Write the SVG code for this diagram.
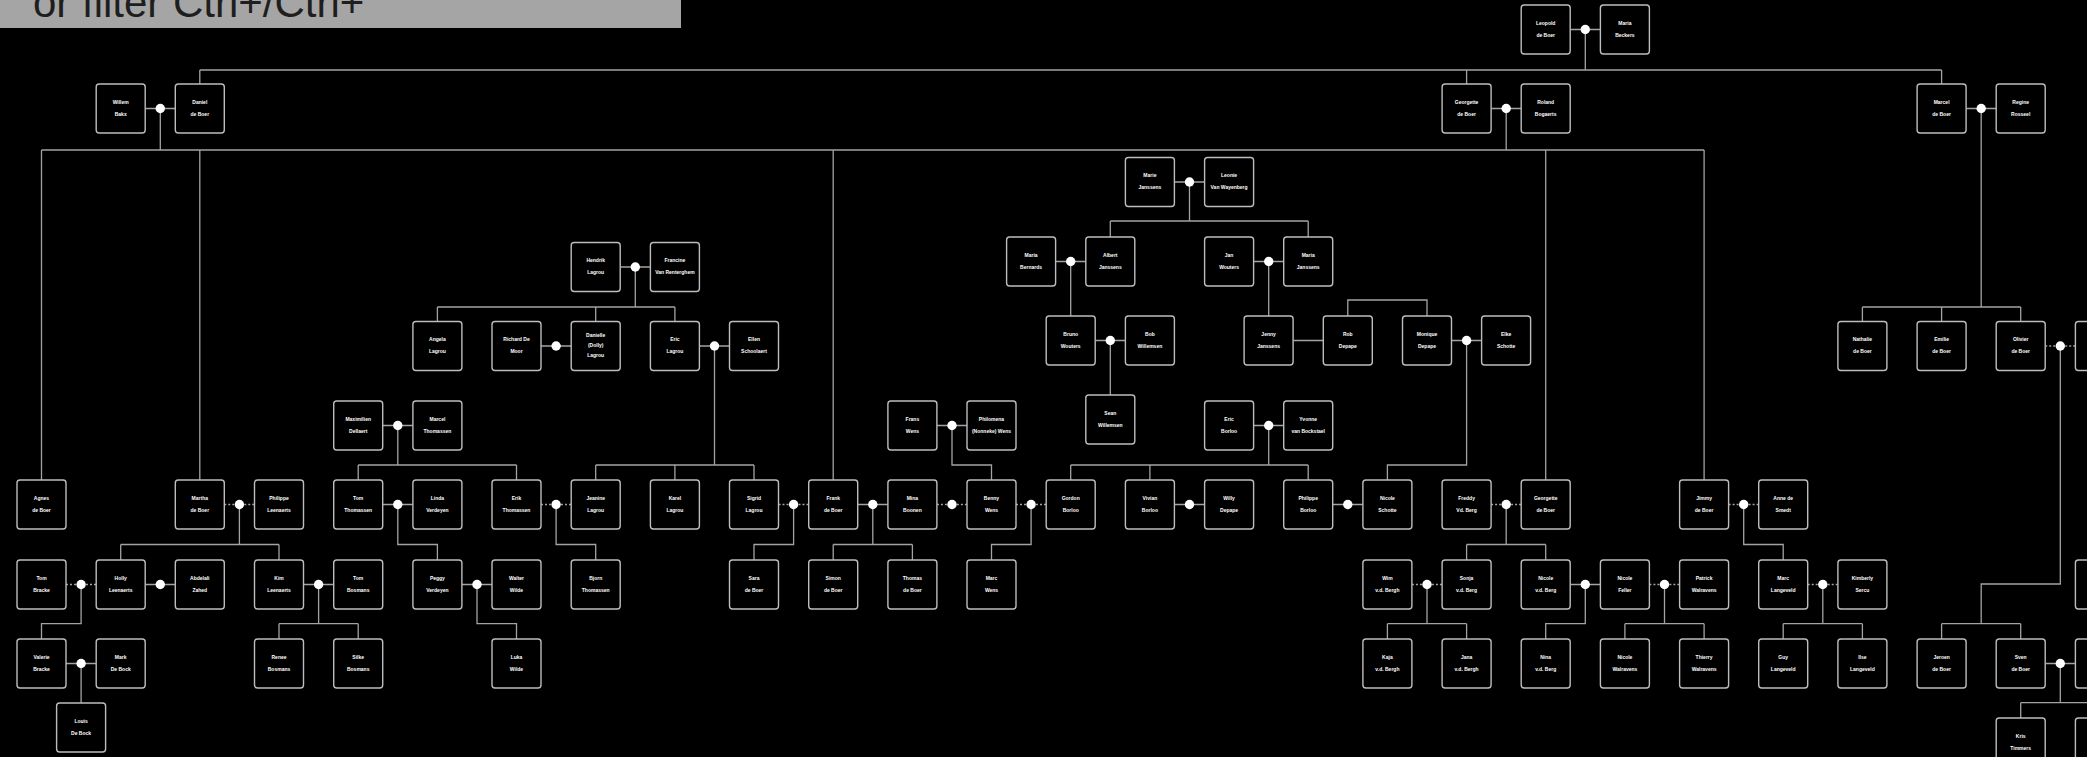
<svg xmlns="http://www.w3.org/2000/svg" width="2087" height="757" viewBox="0 0 2087 757">
<style>
.b{fill:#000;stroke:#bdbdbd;stroke-width:1.4}
.t{font-family:"Liberation Sans",Arial,sans-serif;font-weight:bold;font-size:5px;fill:#fff;text-anchor:middle}
.c{fill:none;stroke:#a3a3a3;stroke-width:1.3}
.d{fill:none;stroke:#a3a3a3;stroke-width:1.3;stroke-dasharray:2 2}
.m{fill:#fff}
</style>
<rect x="0" y="0" width="2087" height="757" fill="#000"/>
<g id="searchbar">
<rect x="0" y="0" width="681" height="28" fill="#a5a5a5"/>
<text x="33" y="17" font-family="Liberation Sans, Arial, sans-serif" font-size="42" fill="#1e1e1e">or filter Ctrl+/Ctrl+</text>
</g>
<g id="connectors">
<path class="c" d="M1585.3 29.5V70M199.8 70H1941.6M199.8 70V84M1466.6 70V84M1941.6 70V84
M160.3 108.5V150M1506.2 108.5V150M41.5 150H1704.1M41.5 150V480M199.8 150V480M833.2 150V480M1545.7 150V480M1704.1 150V480
M1189.5 182V221M1110.3 221H1308.2M1110.3 221V237M1308.2 221V237
M635.3 267V307M437.4 307H674.9M437.4 307V321.5M595.7 307V321.5M674.9 307V321.5
M1981.2 108.5V307M1862.4 307H2020.7M1862.4 307V321.5M1941.6 307V321.5M2020.7 307V321.5
M1070.7 261.5V316M1268.7 261.5V316
M1347.8 316V300H1427V316
M1110.3 340.5V395
M1466.6 340.5V465H1387.4V480
M714.5 346V465M595.7 465H754M595.7 465V480M674.9 465V480M754 465V480
M2060.3 346V584H1981.2V623.7M1941.6 623.7H2020.7M1941.6 623.7V639M2020.7 623.7V639
M397.8 425.5V465M358.2 465H516.5M358.2 465V480M516.5 465V480
M952 425.5V465H991.5V480
M1268.7 425.5V465M1070.7 465H1308.2M1070.7 465V480M1149.9 465V480M1308.2 465V480
M239.4 504.5V544.5M120.7 544.5H279M120.7 544.5V560M279 544.5V560
M397.8 504.5V544.5H437.4V560
M556.1 504.5V544.5H595.7V560
M793.6 504.5V544.5H754V560
M872.8 504.5V544.5M833.2 544.5H912.4M833.2 544.5V560M912.4 544.5V560
M1031.1 504.5V544.5H991.5V560
M1506.2 504.5V544.5M1466.6 544.5H1545.7M1466.6 544.5V560M1545.7 544.5V560
M1743.7 504.5V544.5H1783.2V560
M81.1 584.5V623.7H41.5V639
M318.6 584.5V623.7M279 623.7H358.2M279 623.7V639M358.2 623.7V639
M477 584.5V623.7H516.5V639
M1427 584.5V623.7M1387.4 623.7H1466.6M1387.4 623.7V639M1466.6 623.7V639
M1585.3 584.5V623.7H1545.7V639
M1664.5 584.5V623.7M1624.9 623.7H1704.1M1624.9 623.7V639M1704.1 623.7V639
M1822.8 584.5V623.7M1783.2 623.7H1862.4M1783.2 623.7V639M1862.4 623.7V639
M81.1 663.5V703
M2060.3 663.5V702.7M2020.7 702.7H2099.9M2020.7 702.7V718M2099.9 702.7V718"/>
<path class="c" d="M1570.2 29.5H1600.4M145.2 108.5H175.3M1491.1 108.5H1521.2M1966.1 108.5H1996.2
M1174.4 182H1204.6M1055.6 261.5H1085.8M1253.6 261.5H1283.7M620.2 267H650.4
M1095.2 340.5H1125.4M1293.1 340.5H1323.3M1451.5 340.5H1481.6
M541 346H571.2M699.4 346H729.5
M382.7 425.5H412.9M936.9 425.5H967M1253.6 425.5H1283.7
M382.7 504.5H412.9M857.7 504.5H887.9M1174.4 504.5H1204.6M1332.7 504.5H1362.9
M145.2 584.5H175.3M303.5 584.5H333.7M461.9 584.5H492M1570.2 584.5H1600.4
M66 663.5H96.2M2045.2 663.5H2075.4"/>
<path class="d" d="M2045.2 346H2075.4M224.3 504.5H254.5M541 504.5H571.2M778.5 504.5H808.7M936.9 504.5H967M1016 504.5H1046.2M1491.1 504.5H1521.2M1728.6 504.5H1758.7
M66 584.5H96.2M1411.9 584.5H1442.1M1649.4 584.5H1679.6M1807.7 584.5H1837.9"/>
<g class="m">
<circle cx="1585.3" cy="29.5" r="4.7"/>
<circle cx="160.3" cy="108.5" r="4.7"/><circle cx="1506.2" cy="108.5" r="4.7"/><circle cx="1981.2" cy="108.5" r="4.7"/>
<circle cx="1189.5" cy="182" r="4.7"/>
<circle cx="1070.7" cy="261.5" r="4.7"/><circle cx="1268.7" cy="261.5" r="4.7"/><circle cx="635.3" cy="267" r="4.7"/>
<circle cx="1110.3" cy="340.5" r="4.7"/><circle cx="1466.6" cy="340.5" r="4.7"/>
<circle cx="556.1" cy="346" r="4.7"/><circle cx="714.5" cy="346" r="4.7"/><circle cx="2060.3" cy="346" r="4.7"/>
<circle cx="397.8" cy="425.5" r="4.7"/><circle cx="952" cy="425.5" r="4.7"/><circle cx="1268.7" cy="425.5" r="4.7"/>
<circle cx="239.4" cy="504.5" r="4.7"/><circle cx="397.8" cy="504.5" r="4.7"/><circle cx="556.1" cy="504.5" r="4.7"/><circle cx="793.6" cy="504.5" r="4.7"/><circle cx="872.8" cy="504.5" r="4.7"/><circle cx="952" cy="504.5" r="4.7"/><circle cx="1031.1" cy="504.5" r="4.7"/><circle cx="1189.5" cy="504.5" r="4.7"/><circle cx="1347.8" cy="504.5" r="4.7"/><circle cx="1506.2" cy="504.5" r="4.7"/><circle cx="1743.7" cy="504.5" r="4.7"/>
<circle cx="81.1" cy="584.5" r="4.7"/><circle cx="160.3" cy="584.5" r="4.7"/><circle cx="318.6" cy="584.5" r="4.7"/><circle cx="477" cy="584.5" r="4.7"/><circle cx="1427" cy="584.5" r="4.7"/><circle cx="1585.3" cy="584.5" r="4.7"/><circle cx="1664.5" cy="584.5" r="4.7"/><circle cx="1822.8" cy="584.5" r="4.7"/>
<circle cx="81.1" cy="663.5" r="4.7"/><circle cx="2060.3" cy="663.5" r="4.7"/>
</g>
</g>
<g id="n01"><rect class="b" x="1521.2" y="5" width="49" height="49" rx="3"/><text class="t" x="1545.7" y="24.5">Leopold</text><text class="t" x="1545.7" y="36.5">de Boer</text></g>
<g id="n02"><rect class="b" x="1600.4" y="5" width="49" height="49" rx="3"/><text class="t" x="1624.9" y="24.5">Maria</text><text class="t" x="1624.9" y="36.5">Beckers</text></g>
<g id="n03"><rect class="b" x="96.2" y="84" width="49" height="49" rx="3"/><text class="t" x="120.7" y="103.5">Willem</text><text class="t" x="120.7" y="115.5">Bakx</text></g>
<g id="n04"><rect class="b" x="175.3" y="84" width="49" height="49" rx="3"/><text class="t" x="199.8" y="103.5">Daniel</text><text class="t" x="199.8" y="115.5">de Boer</text></g>
<g id="n05"><rect class="b" x="1442.1" y="84" width="49" height="49" rx="3"/><text class="t" x="1466.6" y="103.5">Georgette</text><text class="t" x="1466.6" y="115.5">de Boer</text></g>
<g id="n06"><rect class="b" x="1521.2" y="84" width="49" height="49" rx="3"/><text class="t" x="1545.7" y="103.5">Roland</text><text class="t" x="1545.7" y="115.5">Bogaerts</text></g>
<g id="n07"><rect class="b" x="1917.1" y="84" width="49" height="49" rx="3"/><text class="t" x="1941.6" y="103.5">Marcel</text><text class="t" x="1941.6" y="115.5">de Boer</text></g>
<g id="n08"><rect class="b" x="1996.2" y="84" width="49" height="49" rx="3"/><text class="t" x="2020.7" y="103.5">Regine</text><text class="t" x="2020.7" y="115.5">Rosseel</text></g>
<g id="n09"><rect class="b" x="1125.4" y="157.5" width="49" height="49" rx="3"/><text class="t" x="1149.9" y="177">Marie</text><text class="t" x="1149.9" y="189">Janssens</text></g>
<g id="n10"><rect class="b" x="1204.6" y="157.5" width="49" height="49" rx="3"/><text class="t" x="1229.1" y="177">Leonie</text><text class="t" x="1229.1" y="189">Van Wayenberg</text></g>
<g id="n11"><rect class="b" x="1006.6" y="237" width="49" height="49" rx="3"/><text class="t" x="1031.1" y="256.5">Maria</text><text class="t" x="1031.1" y="268.5">Bernards</text></g>
<g id="n12"><rect class="b" x="1085.8" y="237" width="49" height="49" rx="3"/><text class="t" x="1110.3" y="256.5">Albert</text><text class="t" x="1110.3" y="268.5">Janssens</text></g>
<g id="n13"><rect class="b" x="1204.6" y="237" width="49" height="49" rx="3"/><text class="t" x="1229.1" y="256.5">Jan</text><text class="t" x="1229.1" y="268.5">Wouters</text></g>
<g id="n14"><rect class="b" x="1283.7" y="237" width="49" height="49" rx="3"/><text class="t" x="1308.2" y="256.5">Maria</text><text class="t" x="1308.2" y="268.5">Janssens</text></g>
<g id="n15"><rect class="b" x="571.2" y="242.5" width="49" height="49" rx="3"/><text class="t" x="595.7" y="262">Hendrik</text><text class="t" x="595.7" y="274">Lagrou</text></g>
<g id="n16"><rect class="b" x="650.4" y="242.5" width="49" height="49" rx="3"/><text class="t" x="674.9" y="262">Francine</text><text class="t" x="674.9" y="274">Van Renterghem</text></g>
<g id="n17"><rect class="b" x="1046.2" y="316" width="49" height="49" rx="3"/><text class="t" x="1070.7" y="335.5">Bruno</text><text class="t" x="1070.7" y="347.5">Wouters</text></g>
<g id="n18"><rect class="b" x="1125.4" y="316" width="49" height="49" rx="3"/><text class="t" x="1149.9" y="335.5">Bob</text><text class="t" x="1149.9" y="347.5">Willemsen</text></g>
<g id="n19"><rect class="b" x="1244.1" y="316" width="49" height="49" rx="3"/><text class="t" x="1268.6" y="335.5">Jenny</text><text class="t" x="1268.6" y="347.5">Janssens</text></g>
<g id="n20"><rect class="b" x="1323.3" y="316" width="49" height="49" rx="3"/><text class="t" x="1347.8" y="335.5">Rob</text><text class="t" x="1347.8" y="347.5">Depape</text></g>
<g id="n21"><rect class="b" x="1402.5" y="316" width="49" height="49" rx="3"/><text class="t" x="1427" y="335.5">Monique</text><text class="t" x="1427" y="347.5">Depape</text></g>
<g id="n22"><rect class="b" x="1481.6" y="316" width="49" height="49" rx="3"/><text class="t" x="1506.1" y="335.5">Elke</text><text class="t" x="1506.1" y="347.5">Schotte</text></g>
<g id="n23"><rect class="b" x="412.9" y="321.5" width="49" height="49" rx="3"/><text class="t" x="437.4" y="341">Angela</text><text class="t" x="437.4" y="353">Lagrou</text></g>
<g id="n24"><rect class="b" x="492" y="321.5" width="49" height="49" rx="3"/><text class="t" x="516.5" y="341">Richard De</text><text class="t" x="516.5" y="353">Moor</text></g>
<g id="n25"><rect class="b" x="571.2" y="321.5" width="49" height="49" rx="3"/><text class="t" x="595.7" y="337">Danielle</text><text class="t" x="595.7" y="347">(Dolly)</text><text class="t" x="595.7" y="357">Lagrou</text></g>
<g id="n26"><rect class="b" x="650.4" y="321.5" width="49" height="49" rx="3"/><text class="t" x="674.9" y="341">Eric</text><text class="t" x="674.9" y="353">Lagrou</text></g>
<g id="n27"><rect class="b" x="729.5" y="321.5" width="49" height="49" rx="3"/><text class="t" x="754" y="341">Ellen</text><text class="t" x="754" y="353">Schoolaert</text></g>
<g id="n28"><rect class="b" x="1837.9" y="321.5" width="49" height="49" rx="3"/><text class="t" x="1862.4" y="341">Nathalie</text><text class="t" x="1862.4" y="353">de Boer</text></g>
<g id="n29"><rect class="b" x="1917.1" y="321.5" width="49" height="49" rx="3"/><text class="t" x="1941.6" y="341">Emilie</text><text class="t" x="1941.6" y="353">de Boer</text></g>
<g id="n30"><rect class="b" x="1996.2" y="321.5" width="49" height="49" rx="3"/><text class="t" x="2020.7" y="341">Olivier</text><text class="t" x="2020.7" y="353">de Boer</text></g>
<g id="n31"><rect class="b" x="2075.4" y="321.5" width="49" height="49" rx="3"/></g>
<g id="n32"><rect class="b" x="1085.8" y="395" width="49" height="49" rx="3"/><text class="t" x="1110.3" y="414.5">Sean</text><text class="t" x="1110.3" y="426.5">Willemsen</text></g>
<g id="n33"><rect class="b" x="333.7" y="401" width="49" height="49" rx="3"/><text class="t" x="358.2" y="420.5">Maximilien</text><text class="t" x="358.2" y="432.5">Dellaert</text></g>
<g id="n34"><rect class="b" x="412.9" y="401" width="49" height="49" rx="3"/><text class="t" x="437.4" y="420.5">Marcel</text><text class="t" x="437.4" y="432.5">Thomassen</text></g>
<g id="n35"><rect class="b" x="887.9" y="401" width="49" height="49" rx="3"/><text class="t" x="912.4" y="420.5">Frans</text><text class="t" x="912.4" y="432.5">Wens</text></g>
<g id="n36"><rect class="b" x="967" y="401" width="49" height="49" rx="3"/><text class="t" x="991.5" y="420.5">Philomena</text><text class="t" x="991.5" y="432.5">(Nonneke) Wens</text></g>
<g id="n37"><rect class="b" x="1204.6" y="401" width="49" height="49" rx="3"/><text class="t" x="1229.1" y="420.5">Eric</text><text class="t" x="1229.1" y="432.5">Borloo</text></g>
<g id="n38"><rect class="b" x="1283.7" y="401" width="49" height="49" rx="3"/><text class="t" x="1308.2" y="420.5">Yvonne</text><text class="t" x="1308.2" y="432.5">van Bockstael</text></g>
<g id="n39"><rect class="b" x="17" y="480" width="49" height="49" rx="3"/><text class="t" x="41.5" y="499.5">Agnes</text><text class="t" x="41.5" y="511.5">de Boer</text></g>
<g id="n40"><rect class="b" x="175.3" y="480" width="49" height="49" rx="3"/><text class="t" x="199.8" y="499.5">Martha</text><text class="t" x="199.8" y="511.5">de Boer</text></g>
<g id="n41"><rect class="b" x="254.5" y="480" width="49" height="49" rx="3"/><text class="t" x="279" y="499.5">Philippe</text><text class="t" x="279" y="511.5">Leenaerts</text></g>
<g id="n42"><rect class="b" x="333.7" y="480" width="49" height="49" rx="3"/><text class="t" x="358.2" y="499.5">Tom</text><text class="t" x="358.2" y="511.5">Thomassen</text></g>
<g id="n43"><rect class="b" x="412.9" y="480" width="49" height="49" rx="3"/><text class="t" x="437.4" y="499.5">Linda</text><text class="t" x="437.4" y="511.5">Verdeyen</text></g>
<g id="n44"><rect class="b" x="492" y="480" width="49" height="49" rx="3"/><text class="t" x="516.5" y="499.5">Erik</text><text class="t" x="516.5" y="511.5">Thomassen</text></g>
<g id="n45"><rect class="b" x="571.2" y="480" width="49" height="49" rx="3"/><text class="t" x="595.7" y="499.5">Jeanine</text><text class="t" x="595.7" y="511.5">Lagrou</text></g>
<g id="n46"><rect class="b" x="650.4" y="480" width="49" height="49" rx="3"/><text class="t" x="674.9" y="499.5">Karel</text><text class="t" x="674.9" y="511.5">Lagrou</text></g>
<g id="n47"><rect class="b" x="729.5" y="480" width="49" height="49" rx="3"/><text class="t" x="754" y="499.5">Sigrid</text><text class="t" x="754" y="511.5">Lagrou</text></g>
<g id="n48"><rect class="b" x="808.7" y="480" width="49" height="49" rx="3"/><text class="t" x="833.2" y="499.5">Frank</text><text class="t" x="833.2" y="511.5">de Boer</text></g>
<g id="n49"><rect class="b" x="887.9" y="480" width="49" height="49" rx="3"/><text class="t" x="912.4" y="499.5">Mina</text><text class="t" x="912.4" y="511.5">Boonen</text></g>
<g id="n50"><rect class="b" x="967" y="480" width="49" height="49" rx="3"/><text class="t" x="991.5" y="499.5">Benny</text><text class="t" x="991.5" y="511.5">Wens</text></g>
<g id="n51"><rect class="b" x="1046.2" y="480" width="49" height="49" rx="3"/><text class="t" x="1070.7" y="499.5">Gordon</text><text class="t" x="1070.7" y="511.5">Borloo</text></g>
<g id="n52"><rect class="b" x="1125.4" y="480" width="49" height="49" rx="3"/><text class="t" x="1149.9" y="499.5">Vivian</text><text class="t" x="1149.9" y="511.5">Borloo</text></g>
<g id="n53"><rect class="b" x="1204.6" y="480" width="49" height="49" rx="3"/><text class="t" x="1229.1" y="499.5">Willy</text><text class="t" x="1229.1" y="511.5">Depape</text></g>
<g id="n54"><rect class="b" x="1283.7" y="480" width="49" height="49" rx="3"/><text class="t" x="1308.2" y="499.5">Philippe</text><text class="t" x="1308.2" y="511.5">Borloo</text></g>
<g id="n55"><rect class="b" x="1362.9" y="480" width="49" height="49" rx="3"/><text class="t" x="1387.4" y="499.5">Nicole</text><text class="t" x="1387.4" y="511.5">Schotte</text></g>
<g id="n56"><rect class="b" x="1442.1" y="480" width="49" height="49" rx="3"/><text class="t" x="1466.6" y="499.5">Freddy</text><text class="t" x="1466.6" y="511.5">Vd. Berg</text></g>
<g id="n57"><rect class="b" x="1521.2" y="480" width="49" height="49" rx="3"/><text class="t" x="1545.7" y="499.5">Georgette</text><text class="t" x="1545.7" y="511.5">de Boer</text></g>
<g id="n58"><rect class="b" x="1679.6" y="480" width="49" height="49" rx="3"/><text class="t" x="1704.1" y="499.5">Jimmy</text><text class="t" x="1704.1" y="511.5">de Boer</text></g>
<g id="n59"><rect class="b" x="1758.7" y="480" width="49" height="49" rx="3"/><text class="t" x="1783.2" y="499.5">Anne de</text><text class="t" x="1783.2" y="511.5">Smedt</text></g>
<g id="n60"><rect class="b" x="17" y="560" width="49" height="49" rx="3"/><text class="t" x="41.5" y="579.5">Tom</text><text class="t" x="41.5" y="591.5">Bracke</text></g>
<g id="n61"><rect class="b" x="96.2" y="560" width="49" height="49" rx="3"/><text class="t" x="120.7" y="579.5">Holly</text><text class="t" x="120.7" y="591.5">Leenaerts</text></g>
<g id="n62"><rect class="b" x="175.3" y="560" width="49" height="49" rx="3"/><text class="t" x="199.8" y="579.5">Abdelali</text><text class="t" x="199.8" y="591.5">Zahed</text></g>
<g id="n63"><rect class="b" x="254.5" y="560" width="49" height="49" rx="3"/><text class="t" x="279" y="579.5">Kim</text><text class="t" x="279" y="591.5">Leenaerts</text></g>
<g id="n64"><rect class="b" x="333.7" y="560" width="49" height="49" rx="3"/><text class="t" x="358.2" y="579.5">Tom</text><text class="t" x="358.2" y="591.5">Bosmans</text></g>
<g id="n65"><rect class="b" x="412.9" y="560" width="49" height="49" rx="3"/><text class="t" x="437.4" y="579.5">Peggy</text><text class="t" x="437.4" y="591.5">Verdeyen</text></g>
<g id="n66"><rect class="b" x="492" y="560" width="49" height="49" rx="3"/><text class="t" x="516.5" y="579.5">Walter</text><text class="t" x="516.5" y="591.5">Wilde</text></g>
<g id="n67"><rect class="b" x="571.2" y="560" width="49" height="49" rx="3"/><text class="t" x="595.7" y="579.5">Bjorn</text><text class="t" x="595.7" y="591.5">Thomassen</text></g>
<g id="n68"><rect class="b" x="729.5" y="560" width="49" height="49" rx="3"/><text class="t" x="754" y="579.5">Sara</text><text class="t" x="754" y="591.5">de Boer</text></g>
<g id="n69"><rect class="b" x="808.7" y="560" width="49" height="49" rx="3"/><text class="t" x="833.2" y="579.5">Simon</text><text class="t" x="833.2" y="591.5">de Boer</text></g>
<g id="n70"><rect class="b" x="887.9" y="560" width="49" height="49" rx="3"/><text class="t" x="912.4" y="579.5">Thomas</text><text class="t" x="912.4" y="591.5">de Boer</text></g>
<g id="n71"><rect class="b" x="967" y="560" width="49" height="49" rx="3"/><text class="t" x="991.5" y="579.5">Marc</text><text class="t" x="991.5" y="591.5">Wens</text></g>
<g id="n72"><rect class="b" x="1362.9" y="560" width="49" height="49" rx="3"/><text class="t" x="1387.4" y="579.5">Wim</text><text class="t" x="1387.4" y="591.5">v.d. Bergh</text></g>
<g id="n73"><rect class="b" x="1442.1" y="560" width="49" height="49" rx="3"/><text class="t" x="1466.6" y="579.5">Sonja</text><text class="t" x="1466.6" y="591.5">v.d. Berg</text></g>
<g id="n74"><rect class="b" x="1521.2" y="560" width="49" height="49" rx="3"/><text class="t" x="1545.7" y="579.5">Nicole</text><text class="t" x="1545.7" y="591.5">v.d. Berg</text></g>
<g id="n75"><rect class="b" x="1600.4" y="560" width="49" height="49" rx="3"/><text class="t" x="1624.9" y="579.5">Nicole</text><text class="t" x="1624.9" y="591.5">Feller</text></g>
<g id="n76"><rect class="b" x="1679.6" y="560" width="49" height="49" rx="3"/><text class="t" x="1704.1" y="579.5">Patrick</text><text class="t" x="1704.1" y="591.5">Walravens</text></g>
<g id="n77"><rect class="b" x="1758.7" y="560" width="49" height="49" rx="3"/><text class="t" x="1783.2" y="579.5">Marc</text><text class="t" x="1783.2" y="591.5">Langeveld</text></g>
<g id="n78"><rect class="b" x="1837.9" y="560" width="49" height="49" rx="3"/><text class="t" x="1862.4" y="579.5">Kimberly</text><text class="t" x="1862.4" y="591.5">Sercu</text></g>
<g id="n79"><rect class="b" x="2075.4" y="560" width="49" height="49" rx="3"/></g>
<g id="n80"><rect class="b" x="17" y="639" width="49" height="49" rx="3"/><text class="t" x="41.5" y="658.5">Valerie</text><text class="t" x="41.5" y="670.5">Bracke</text></g>
<g id="n81"><rect class="b" x="96.2" y="639" width="49" height="49" rx="3"/><text class="t" x="120.7" y="658.5">Mark</text><text class="t" x="120.7" y="670.5">De Bock</text></g>
<g id="n82"><rect class="b" x="254.5" y="639" width="49" height="49" rx="3"/><text class="t" x="279" y="658.5">Renee</text><text class="t" x="279" y="670.5">Bosmans</text></g>
<g id="n83"><rect class="b" x="333.7" y="639" width="49" height="49" rx="3"/><text class="t" x="358.2" y="658.5">Silke</text><text class="t" x="358.2" y="670.5">Bosmans</text></g>
<g id="n84"><rect class="b" x="492" y="639" width="49" height="49" rx="3"/><text class="t" x="516.5" y="658.5">Luka</text><text class="t" x="516.5" y="670.5">Wilde</text></g>
<g id="n85"><rect class="b" x="1362.9" y="639" width="49" height="49" rx="3"/><text class="t" x="1387.4" y="658.5">Kaja</text><text class="t" x="1387.4" y="670.5">v.d. Bergh</text></g>
<g id="n86"><rect class="b" x="1442.1" y="639" width="49" height="49" rx="3"/><text class="t" x="1466.6" y="658.5">Jana</text><text class="t" x="1466.6" y="670.5">v.d. Bergh</text></g>
<g id="n87"><rect class="b" x="1521.2" y="639" width="49" height="49" rx="3"/><text class="t" x="1545.7" y="658.5">Nina</text><text class="t" x="1545.7" y="670.5">v.d. Berg</text></g>
<g id="n88"><rect class="b" x="1600.4" y="639" width="49" height="49" rx="3"/><text class="t" x="1624.9" y="658.5">Nicole</text><text class="t" x="1624.9" y="670.5">Walravens</text></g>
<g id="n89"><rect class="b" x="1679.6" y="639" width="49" height="49" rx="3"/><text class="t" x="1704.1" y="658.5">Thierry</text><text class="t" x="1704.1" y="670.5">Walravens</text></g>
<g id="n90"><rect class="b" x="1758.7" y="639" width="49" height="49" rx="3"/><text class="t" x="1783.2" y="658.5">Guy</text><text class="t" x="1783.2" y="670.5">Langeveld</text></g>
<g id="n91"><rect class="b" x="1837.9" y="639" width="49" height="49" rx="3"/><text class="t" x="1862.4" y="658.5">Ilse</text><text class="t" x="1862.4" y="670.5">Langeveld</text></g>
<g id="n92"><rect class="b" x="1917.1" y="639" width="49" height="49" rx="3"/><text class="t" x="1941.6" y="658.5">Jeroen</text><text class="t" x="1941.6" y="670.5">de Boer</text></g>
<g id="n93"><rect class="b" x="1996.2" y="639" width="49" height="49" rx="3"/><text class="t" x="2020.7" y="658.5">Sven</text><text class="t" x="2020.7" y="670.5">de Boer</text></g>
<g id="n94"><rect class="b" x="2075.4" y="639" width="49" height="49" rx="3"/></g>
<g id="n95"><rect class="b" x="56.6" y="703" width="49" height="49" rx="3"/><text class="t" x="81.1" y="722.5">Louis</text><text class="t" x="81.1" y="734.5">De Bock</text></g>
<g id="n96"><rect class="b" x="1996.2" y="718" width="49" height="49" rx="3"/><text class="t" x="2020.7" y="737.5">Kris</text><text class="t" x="2020.7" y="749.5">Timmers</text></g>
<g id="n97"><rect class="b" x="2075.4" y="718" width="49" height="49" rx="3"/></g>
</svg>
